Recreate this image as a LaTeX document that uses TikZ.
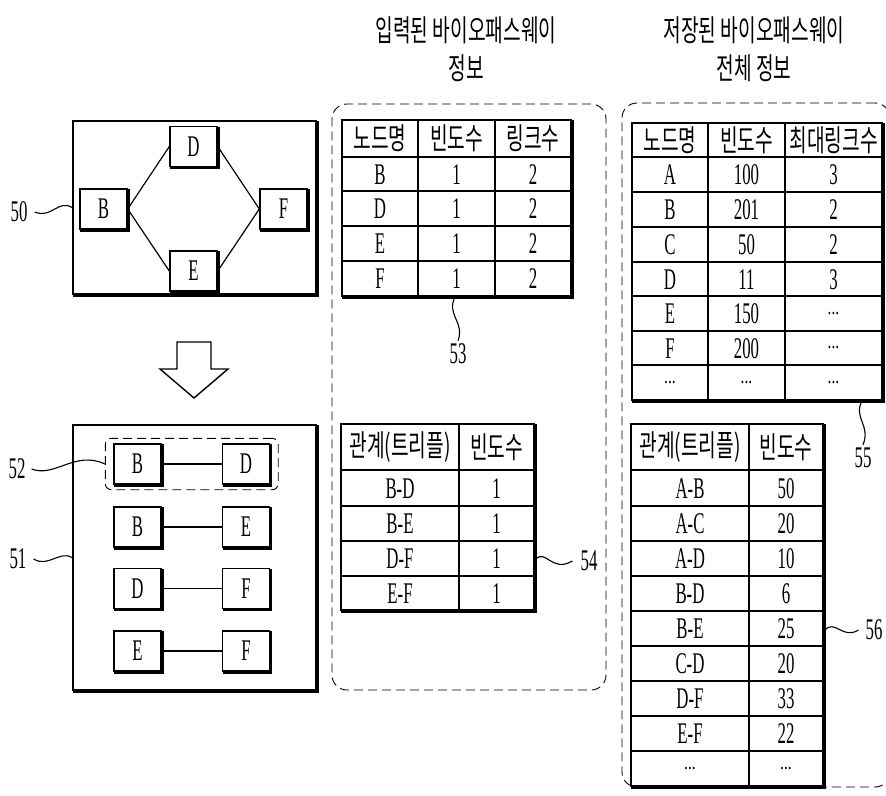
\documentclass[tikz,border=0pt]{standalone}
\usepackage{fontspec}
\setmainfont[FakeStretch=0.56]{Liberation Serif}
\newfontfamily\kr[FakeStretch=0.64]{Noto Sans CJK KR}
\newfontfamily\dotfont[FakeStretch=0.7]{Liberation Serif}
\usetikzlibrary{fit}
\newcommand\heavybr[1]{\draw[line width=2.4pt] ([shift={(1,1)}]#1.north east) -- ([shift={(1,1)}]#1.south east) -- ([shift={(1,1)}]#1.south west);}
\begin{document}
\begin{tikzpicture}[x=1pt,y=-1pt,
  lat/.style={font=\fontsize{30}{32}\selectfont},
  ko/.style={font=\kr\fontsize{30}{38}\selectfont},
  nbox/.style={draw, line width=1.4pt, minimum width=47pt, minimum height=40pt, inner sep=0pt, lat},
  frame/.style={draw, line width=1.8pt, inner sep=0pt},
  tframe/.style={draw, line width=1.8pt, inner sep=0pt},
  inner/.style={line width=1.2pt},
  cell/.style={lat, inner sep=0pt, text height=20pt, text depth=0pt},
  dotcell/.style={font=\dotfont\fontsize{22}{22}\selectfont, inner sep=0pt},
  hcell/.style={ko, inner sep=0pt},
  dbox/.style={draw, line width=0.9pt, dash pattern=on 9pt off 5pt, rounded corners=15pt, inner sep=0pt},
  lead/.style={line width=1.1pt},
  lbl/.style={lat, inner sep=0pt}]
\useasboundingbox (0,0) rectangle (886,795);

% ---------- titles ----------
\node[ko, align=center] (title1) at (466,49) {입력된 바이오패스웨이\\정보};
\node[ko, align=center] (title2) at (754,49) {저장된 바이오패스웨이\\전체 정보};

% ---------- graph 50 ----------
\node[frame, minimum width=243pt, minimum height=173pt] (g50) at (194.5,207.5) {};
\node[nbox] (gD) at (193.5,146.5) {D};
\node[nbox] (gB) at (103.5,209) {B};
\node[nbox] (gF) at (283.5,209) {F};
\node[nbox] (gE) at (193.5,271) {E};
\draw[inner] (gB.east) -- (gD.west);
\draw[inner] (gD.east) -- (gF.west);
\draw[inner] (gB.east) -- (gE.west);
\draw[inner] (gE.east) -- (gF.west);
\heavybr{g50}
\foreach \n in {gD,gB,gF,gE} {\heavybr{\n}}
\node[lbl] (n50) at (19,212) {50};
\draw[lead] ([xshift=7]n50.east) .. controls (52,219) and (58,199) .. (g50.west);

% ---------- arrow ----------
\draw[line width=1.4pt] (177,342) -- (211,342) -- (211,369) -- (228,369) -- (194,398) -- (160,369) -- (177,369) -- cycle;

% ---------- graph 51 ----------
\node[frame, minimum width=243pt, minimum height=265pt] (g51) at (194.5,557.5) {};
\heavybr{g51}
\foreach \y/\a/\b [count=\i] in {464/B/D, 527/B/E, 588.5/D/F, 651/E/F} {
  \node[nbox] (pL\i) at (137.5,\y) {\a};
  \node[nbox] (pR\i) at (246,\y) {\b};
  \draw[inner] (pL\i.east) -- (pR\i.west);
  \heavybr{pL\i}
  \heavybr{pR\i}
}
\node[dbox, rounded corners=6pt, fit=(pL1)(pR1), inner xsep=8pt, inner ysep=5pt] (d52) {};
\node[lbl] (n52) at (17,469) {52};
\node[lbl] (n51) at (18,559) {51};
\draw[lead] ([xshift=6]n52.east) .. controls (55,478) and (75,450) .. (d52.west);
\draw[lead] ([xshift=7]n51.east) .. controls (48,568) and (60,550) .. (g51.west);

% ---------- dashed groups ----------
\node[dbox, minimum width=274pt, minimum height=586pt] (grpIn) at (469,397) {};
\node[dbox, minimum width=268pt, minimum height=684pt] (grpAll) at (756,445) {};

% ---------- table 53 ----------
\node[tframe, minimum width=229pt, minimum height=176pt] (t53) at (456.5,208) {};
\foreach \x in {418,495} \draw[inner] (\x,120) -- (\x,296);
\foreach \y in {157,191,226,261} \draw[inner] (342,\y) -- (571,\y);
\heavybr{t53}
\node[hcell] (h53a) at (380,138.5) {노드명};
\node[hcell] (h53b) at (456.5,138.5) {빈도수};
\node[hcell] (h53c) at (533,138.5) {링크수};
\foreach \y/\a/\b/\c [count=\i] in {174/B/1/2, 208.5/D/1/2, 243.5/E/1/2, 278.5/F/1/2} {
  \node[cell] (c53-\i a) at (380,\y) {\a};
  \node[cell] (c53-\i b) at (456.5,\y) {\b};
  \node[cell] (c53-\i c) at (533,\y) {\c};
}
\node[lbl] (n53) at (458,354) {53};
\draw[lead] ([xshift=-1.5]t53.south) .. controls (446,315) and (465,322) .. ([yshift=3]n53.north);

% ---------- table 54 ----------
\node[tframe, minimum width=193pt, minimum height=186pt] (t54) at (437.5,517) {};
\draw[inner] (459,424) -- (459,610);
\foreach \y in {470,506,541,576} \draw[inner] (341,\y) -- (534,\y);
\heavybr{t54}
\node[hcell] (h54a) at (400,447) {관계(트리플)};
\node[hcell] (h54b) at (496.5,447) {빈도수};
\foreach \y/\a/\b [count=\i] in {488/B-D/1, 523.5/B-E/1, 558.5/D-F/1, 593/E-F/1} {
  \node[cell] (c54-\i a) at (400,\y) {\a};
  \node[cell] (c54-\i b) at (496.5,\y) {\b};
}
\node[lbl] (n54) at (589,561) {54};
\draw[lead] ([shift={(1,42)}]t54.east) .. controls (546,549) and (552,573) .. ([xshift=-8]n54.west);

% ---------- table 55 ----------
\node[tframe, minimum width=250pt, minimum height=277pt] (t55) at (757,261.5) {};
\foreach \x in {708,785} \draw[inner] (\x,123) -- (\x,400);
\foreach \y in {157,192,227,262,296,331,365} \draw[inner] (632,\y) -- (882,\y);
\heavybr{t55}
\node[hcell] (h55a) at (670,140) {노드명};
\node[hcell] (h55b) at (746.5,140) {빈도수};
\node[hcell] (h55c) at (833.5,140) {최대링크수};
\foreach \y/\a/\b/\c [count=\i] in {174.5/A/100/3, 209.5/B/201/2, 244.5/C/50/2, 279/D/11/3} {
  \node[cell] (c55-\i a) at (670,\y) {\a};
  \node[cell] (c55-\i b) at (746.5,\y) {\b};
  \node[cell] (c55-\i c) at (833.5,\y) {\c};
}
\node[cell] (c55-5a) at (670,313.5) {E};
\node[cell] (c55-5b) at (746.5,313.5) {150};
\node[dotcell] (c55-5c) at (833.5,313.5) {...};
\node[cell] (c55-6a) at (670,348) {F};
\node[cell] (c55-6b) at (746.5,348) {200};
\node[dotcell] (c55-6c) at (833.5,348) {...};
\node[dotcell] (c55-7a) at (670,382.5) {...};
\node[dotcell] (c55-7b) at (746.5,382.5) {...};
\node[dotcell] (c55-7c) at (833.5,382.5) {...};
\node[lbl] (n55) at (863,458) {55};
\draw[lead] ([xshift=105]t55.south) .. controls (853,418) and (871,425) .. ([yshift=3]n55.north);

% ---------- table 56 ----------
\node[tframe, minimum width=192pt, minimum height=362pt] (t56) at (727,605) {};
\draw[inner] (749,424) -- (749,786);
\foreach \y in {470,506,541,576,611,646,681,716,751} \draw[inner] (631,\y) -- (823,\y);
\heavybr{t56}
\node[hcell] (h56a) at (690,447) {관계(트리플)};
\node[hcell] (h56b) at (786,447) {빈도수};
\foreach \y/\a/\b [count=\i] in {488/A-B/50, 523.5/A-C/20, 558.5/A-D/10, 593.5/B-D/6, 628.5/B-E/25, 663.5/C-D/20, 698.5/D-F/33, 733.5/E-F/22} {
  \node[cell] (c56-\i a) at (690,\y) {\a};
  \node[cell] (c56-\i b) at (786,\y) {\b};
}
\node[dotcell] (c56-9a) at (690,768.5) {...};
\node[dotcell] (c56-9b) at (786,768.5) {...};
\node[lbl] (n56) at (874,630) {56};
\draw[lead] ([shift={(1,25)}]t56.east) .. controls (835,619) and (843,640) .. ([xshift=-7]n56.west);
\end{tikzpicture}
\end{document}
